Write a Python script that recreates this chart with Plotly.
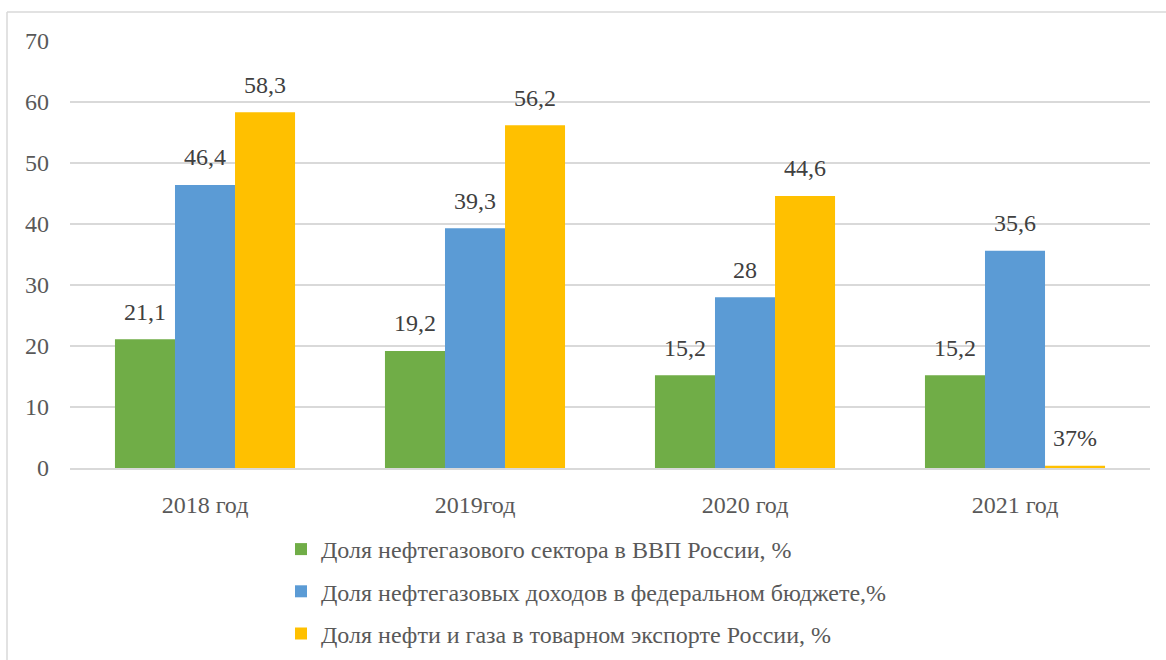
import plotly.graph_objects as go

categories = ["2018 год", "2019год", "2020 год", "2021 год"]
gdp_share = [21.1, 19.2, 15.2, 15.2]
budget_share = [46.4, 39.3, 28, 35.6]
export_share = [58.3, 56.2, 44.6, 0.37]
gdp_labels = ["21,1", "19,2", "15,2", "15,2"]
budget_labels = ["46,4", "39,3", "28", "35,6"]
export_labels = ["58,3", "56,2", "44,6", "37%"]
series_names = [
    "Доля нефтегазового сектора в ВВП России, %",
    "Доля нефтегазовых доходов в федеральном бюджете,%",
    "Доля нефти и газа в товарном экспорте России, %",
]
colors = ["#70AD47", "#5B9BD5", "#FFC000"]
y_ticks = [0, 10, 20, 30, 40, 50, 60, 70]

FONT = "Liberation Serif"
FS = 24
fig = go.Figure()
series = [(gdp_share, gdp_labels), (budget_share, budget_labels), (export_share, export_labels)]
for i, (vals, labels) in enumerate(series):
    fig.add_trace(
        go.Bar(
            x=categories,
            y=vals,
            name=series_names[i],
            marker=dict(color=colors[i], line=dict(width=0)),
            offsetgroup=str(i),
            legendgroup=f"g{i}",
            hoverinfo="skip",
        )
    )
for i, (vals, labels) in enumerate(series):
    fig.add_trace(
        go.Scatter(
            x=categories,
            y=vals,
            mode="markers+text",
            text=labels,
            textposition="top center",
            textfont=dict(family=FONT, size=FS, color="#404040"),
            marker=dict(size=20, color="rgba(0,0,0,0)", line=dict(width=0)),
            offsetgroup=str(i),
            showlegend=False,
            cliponaxis=False,
            hoverinfo="skip",
        )
    )

W, H = 1166, 660
L, R, T, B = 70, 16, 41, 192
pw, ph = W - L - R, H - T - B


def px(x):
    return (x - L) / pw


def py(y):
    return (H - B - y) / ph


fig.update_layout(
    width=W,
    height=H,
    margin=dict(l=L, r=R, t=T, b=B, autoexpand=False),
    paper_bgcolor="white",
    plot_bgcolor="white",
    barmode="group",
    bargap=0.333,
    bargroupgap=0,
    scattermode="group",
    scattergap=0.333,
    font=dict(family=FONT, size=FS, color="#595959"),
    legend=dict(
        orientation="v",
        xref="container",
        yref="container",
        x=281 / W,
        xanchor="left",
        y=1 - 527 / H,
        yanchor="top",
        font=dict(family=FONT, size=FS, color="#595959"),
        tracegroupgap=8,
        bgcolor="rgba(0,0,0,0)",
        itemwidth=30,
    ),
    xaxis=dict(
        showgrid=False,
        showline=True,
        linecolor="#D9D9D9",
        linewidth=1.5,
        ticks="",
        tickfont=dict(family=FONT, size=FS, color="#595959"),
        ticklabelstandoff=14,
        automargin=False,
    ),
    yaxis=dict(
        range=[0, 70],
        tickvals=y_ticks,
        showgrid=True,
        gridcolor="#D9D9D9",
        gridwidth=1.5,
        zeroline=False,
        showline=False,
        ticks="",
        tickfont=dict(family=FONT, size=FS, color="#595959"),
        ticklabelstandoff=20,
        automargin=False,
    ),
    shapes=[
        dict(type="line", xref="paper", yref="paper", x0=px(7), x1=px(7), y0=py(12), y1=py(H + 5),
             line=dict(color="#D9D9D9", width=1.5)),
        dict(type="line", xref="paper", yref="paper", x0=px(7), x1=px(W + 5), y0=py(12), y1=py(12),
             line=dict(color="#D9D9D9", width=1.5)),
    ],
)

fig.write_html(
    "out.html",
    config={"displayModeBar": False},
    post_script="document.body.style.margin='0';",
)
